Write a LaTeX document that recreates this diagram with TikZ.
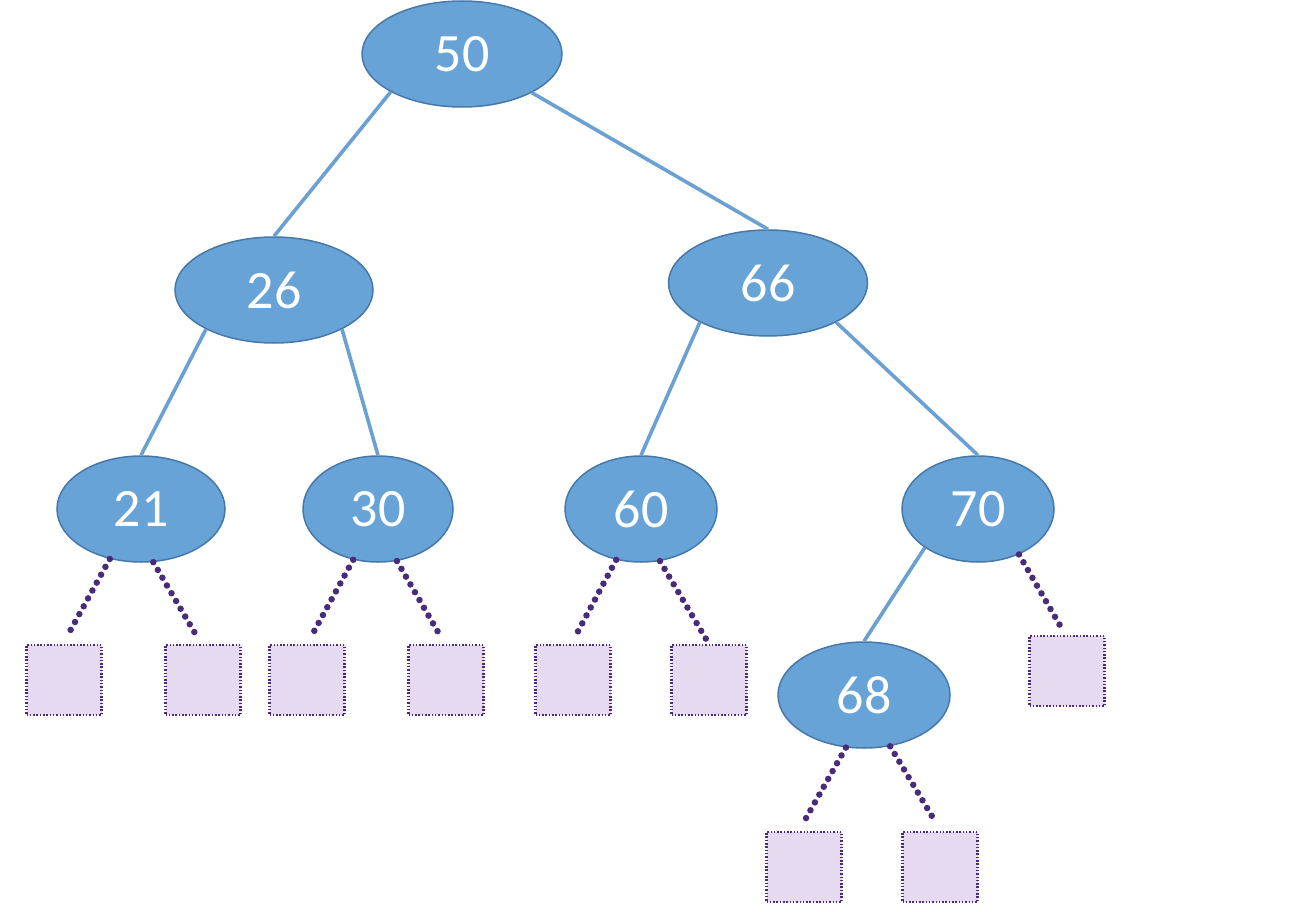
\documentclass[tikz,border=0pt]{standalone}
\usepackage{fontspec}
\setmainfont{Carlito}
\usetikzlibrary{shapes.geometric}
\definecolor{nodefill}{RGB}{104,163,216}
\definecolor{nodeline}{RGB}{70,120,170}
\definecolor{edgecol}{RGB}{106,160,210}
\definecolor{leaffill}{RGB}{230,218,240}
\definecolor{leafline}{RGB}{72,44,122}
\tikzset{
  keynode/.style={ellipse, draw=nodeline, line width=1.5pt, fill=nodefill, text=white,
    minimum height=106pt, inner sep=0pt, font=\fontsize{54}{54}\selectfont},
  leafbox/.style={rectangle, draw=leafline, line width=2.2pt, dash pattern=on 1.5pt off 1.8pt,
    fill=leaffill, minimum width=75pt, minimum height=70pt, inner sep=0pt},
  edge/.style={draw=edgecol, line width=3.6pt},
  leafedge/.style={draw=leafline, line width=6.5pt, line cap=round, dash pattern=on 0pt off 9pt}
}
\begin{document}
\begin{tikzpicture}[x=1pt,y=-1pt]
\useasboundingbox (0,0) rectangle (1290,912);
\fill[white] (0,0) rectangle (1290,912);
% key nodes
\node[keynode, minimum width=200pt] (n50) at (462,54) {50};
\node[keynode, minimum width=198pt] (n26) at (274,290) {26};
\node[keynode, minimum width=199pt] (n66) at (768,283) {66};
\node[keynode, minimum width=168pt] (n21) at (141,509) {21};
\node[keynode, minimum width=150pt] (n30) at (378,509) {30};
\node[keynode, minimum width=152pt] (n60) at (641,509) {60};
\node[keynode, minimum width=152pt] (n70) at (978,509) {70};
\node[keynode, minimum width=172pt] (n68) at (864,695) {68};
% leaves
\node[leafbox] (l21a) at (64,680) {};
\node[leafbox] (l21b) at (203,680) {};
\node[leafbox] (l30a) at (307,680) {};
\node[leafbox] (l30b) at (446,680) {};
\node[leafbox] (l60a) at (573,680) {};
\node[leafbox] (l60b) at (709,680) {};
\node[leafbox] (l70b) at (1067,671) {};
\node[leafbox] (l68a) at (804,867) {};
\node[leafbox] (l68b) at (940,867) {};
% solid edges
\draw[edge] (n50.208) -- (n26.north);
\draw[edge] (n50.331) -- (n66.north);
\draw[edge] (n26.210) -- (n21.north);
\draw[edge] (n26.330) -- (n30.north);
\draw[edge] (n66.210) -- (n60.north);
\draw[edge] (n66.330) -- (n70.north);
\draw[edge] (n70.216) -- (n68.north);
% dotted edges to leaves
\draw[leafedge] (n21.238) -- ([xshift=5pt,yshift=11pt]l21a.north);
\draw[leafedge] (n21.283) -- ([xshift=-7pt,yshift=9pt]l21b.north);
\draw[leafedge] (n30.244) -- ([xshift=4pt,yshift=7pt]l30a.north);
\draw[leafedge] (n30.290) -- ([xshift=-4pt,yshift=5pt]l30b.north);
\draw[leafedge] (n60.244) -- ([xshift=2pt,yshift=7pt]l60a.north);
\draw[leafedge] (n60.290) -- ([xshift=-3pt,yshift=5pt]l60b.north);
\draw[leafedge] (n70.312) -- ([xshift=-5pt,yshift=6pt]l70b.north);
\draw[leafedge] (n68.251) -- ([xshift=1pt,yshift=11pt]l68a.north);
\draw[leafedge] (n68.297) -- ([xshift=-4pt,yshift=8pt]l68b.north);
\end{tikzpicture}
\end{document}
